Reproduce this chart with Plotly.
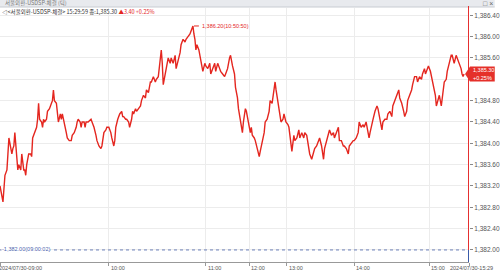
import plotly.graph_objects as go

# tick sequence position (x) and traded price
tick_seq = [0, 1, 3, 5, 7, 8, 9, 11, 12, 13, 14, 15, 16, 17, 18, 19, 21, 22, 23, 24, 25, 26, 27, 29, 31, 32, 33, 35,
            37, 38, 39, 40, 42, 43, 44, 45, 47, 48, 50, 52, 53, 54, 55, 57, 58, 59, 61, 62, 63, 65, 67, 68, 70, 72, 73,
            75, 77, 78, 79, 81, 82, 83, 85, 86, 87, 89, 92, 93, 95, 97, 98, 100, 102, 103, 105, 107, 108, 110, 112,
            113, 115, 116, 117, 119, 121, 123, 124, 125, 127, 128, 130, 131, 133, 134, 135, 137, 138, 140, 142, 143,
            145, 147, 148, 150, 152, 153, 155, 157, 158, 160, 162, 163, 164, 165, 167, 168, 170, 172, 173, 175, 177,
            178, 180, 182, 183, 185, 187, 188, 190, 192, 193, 195, 196, 197, 198, 199, 201, 202, 203, 205, 207, 208,
            210, 212, 213, 215, 217, 218, 220, 222, 223, 225, 227, 228, 230, 232, 233, 235, 237, 238, 240, 241, 242,
            243, 245, 246, 247, 248, 249, 251, 252, 253, 254, 255, 257, 258, 260, 262, 263, 265, 267, 268, 270, 272,
            273, 275, 277, 278, 279, 281, 282, 284, 286, 287, 289, 291, 292, 294, 295, 297, 298, 300, 302, 303, 305,
            307, 308, 310, 312, 313, 315, 317, 318, 320, 322, 323, 325, 327, 328, 330, 332, 333, 335, 337, 338, 340,
            342, 343, 345, 347, 348, 350, 352, 353, 355, 357, 358, 360, 362, 363, 365, 367, 368, 370, 372, 373, 374,
            376, 377, 379, 381, 382, 383, 385, 386, 387, 389, 391, 392, 394, 396, 397, 399, 401, 402, 403, 404, 406,
            408, 409, 411, 412, 414, 416, 417, 419, 421, 422, 424, 426, 427, 429, 430, 432, 433, 435, 437, 438, 440,
            441, 443, 444, 446, 448, 449, 451, 452, 454, 456, 457, 459, 461, 462, 464, 466, 467, 468, 469]
price = [1383.20, 1383.10, 1382.90, 1383.40, 1383.50, 1383.80, 1384.10, 1383.90, 1383.80, 1383.90, 1383.95, 1384.20,
         1383.90, 1383.65, 1383.50, 1383.60, 1383.50, 1383.80, 1383.65, 1383.50, 1383.50, 1383.40, 1383.60, 1383.80,
         1383.80, 1383.75, 1384.10, 1384.20, 1384.30, 1384.45, 1384.75, 1384.45, 1384.40, 1384.30, 1384.45, 1384.40,
         1384.45, 1384.60, 1384.65, 1384.75, 1384.80, 1385.00, 1384.80, 1384.75, 1384.60, 1384.40, 1384.55, 1384.45,
         1384.55, 1384.40, 1384.20, 1384.10, 1384.05, 1384.05, 1384.15, 1384.20, 1384.30, 1384.40, 1384.45, 1384.40,
         1384.30, 1384.40, 1384.40, 1384.30, 1384.40, 1384.40, 1384.45, 1384.40, 1384.30, 1384.15, 1384.05, 1383.95,
         1383.90, 1383.95, 1384.20, 1384.25, 1384.30, 1384.30, 1384.20, 1384.10, 1383.95, 1384.05, 1384.30, 1384.45,
         1384.55, 1384.60, 1384.50, 1384.50, 1384.45, 1384.45, 1384.40, 1384.30, 1384.45, 1384.60, 1384.55, 1384.65,
         1384.60, 1384.65, 1384.70, 1384.80, 1384.90, 1384.85, 1385.00, 1384.95, 1385.15, 1385.15, 1385.25, 1385.15,
         1385.20, 1385.25, 1385.55, 1385.75, 1385.50, 1385.10, 1385.30, 1385.40, 1385.60, 1385.50, 1385.60, 1385.50,
         1385.65, 1385.40, 1385.55, 1385.70, 1385.85, 1385.95, 1385.90, 1385.95, 1386.00, 1386.05, 1386.10, 1386.20,
         1386.05, 1385.95, 1385.75, 1385.85, 1385.75, 1385.65, 1385.50, 1385.35, 1385.50, 1385.45, 1385.40, 1385.50,
         1385.30, 1385.40, 1385.50, 1385.35, 1385.50, 1385.40, 1385.35, 1385.30, 1385.25, 1385.30, 1385.40, 1385.60,
         1385.65, 1385.45, 1385.30, 1385.05, 1384.85, 1384.65, 1384.55, 1384.40, 1384.20, 1384.40, 1384.60, 1384.65,
         1384.60, 1384.40, 1384.30, 1384.20, 1384.30, 1384.15, 1384.10, 1384.05, 1383.90, 1383.75, 1383.85, 1384.00,
         1384.20, 1384.40, 1384.45, 1384.60, 1384.80, 1384.75, 1385.05, 1385.15, 1385.00, 1384.75, 1384.60, 1384.40,
         1384.45, 1384.55, 1384.40, 1384.35, 1384.30, 1383.95, 1383.85, 1384.15, 1384.05, 1384.10, 1384.25, 1384.10,
         1384.20, 1384.10, 1384.20, 1384.15, 1383.95, 1383.80, 1383.70, 1383.85, 1383.90, 1383.95, 1384.05, 1384.10,
         1383.95, 1383.70, 1383.90, 1384.05, 1384.15, 1384.25, 1384.15, 1384.20, 1384.10, 1384.20, 1384.30, 1384.05,
         1384.05, 1383.95, 1383.95, 1383.90, 1383.80, 1383.95, 1384.00, 1384.05, 1384.05, 1384.10, 1384.20, 1384.40,
         1384.30, 1384.35, 1384.30, 1384.40, 1384.20, 1384.10, 1384.20, 1384.40, 1384.45, 1384.60, 1384.70, 1384.65,
         1384.55, 1384.35, 1384.25, 1384.40, 1384.45, 1384.45, 1384.55, 1384.60, 1384.50, 1384.70, 1384.80, 1384.90,
         1384.95, 1385.00, 1384.85, 1384.75, 1384.60, 1384.50, 1384.60, 1384.80, 1384.90, 1385.00, 1385.10, 1385.25,
         1385.25, 1385.15, 1385.25, 1385.20, 1385.30, 1385.40, 1385.30, 1385.40, 1385.45, 1385.35, 1385.15, 1385.05,
         1384.90, 1384.70, 1384.85, 1384.90, 1384.70, 1385.00, 1385.15, 1385.20, 1385.35, 1385.50, 1385.65, 1385.65,
         1385.50, 1385.65, 1385.60, 1385.50, 1385.40, 1385.30, 1385.25, 1385.30]

x_tick_pos = [0, 110, 208, 252, 290, 358, 434, 474]
x_tick_text = ["2024/07/30-09:00", "10:00", "11:00", "12:00", "13:00", "14:00", "15:00", "2024/07/30-15:29"]
y_tick_vals = [1382.00, 1382.40, 1382.80, 1383.20, 1383.60, 1384.00, 1384.40, 1384.80, 1385.20, 1385.60, 1386.00, 1386.40]

high_price, high_time, high_pos = 1386.20, "10:50:50", 195
low_price, low_time = 1382.00, "09:00:02"
last_price, change, change_pct, last_time = 1385.30, 3.40, 0.25, "15:29:59"
title = "서울외환-USDSP-체결"

RED = "#e4261f"
BLUE = "#4a63ad"
NUM_FONT = "Liberation Sans Narrow, Liberation Sans, Arial"
KR_FONT = "Noto Sans CJK KR, Noto Sans, sans-serif"

Y0, Y1 = 1381.774, 1386.537
X_END = x_tick_pos[-1]

# y tick labels hidden where the last-price tag covers them
y_tick_text = ["" if abs(v - last_price) < 0.15 else f"{v:,.2f}" for v in y_tick_vals]

fig = go.Figure()
fig.add_trace(go.Scatter(x=tick_seq, y=price, mode="lines",
                         line=dict(color=RED, width=1.4), hoverinfo="skip"))

fig.update_layout(
    width=500, height=272,
    margin=dict(l=0, r=26, t=8, b=10),
    paper_bgcolor="white", plot_bgcolor="white",
    showlegend=False,
    xaxis=dict(range=[0, X_END], tickvals=x_tick_pos, showticklabels=False,
               showgrid=True, gridcolor="#ececec", gridwidth=1,
               ticks="outside", ticklen=3, tickcolor="#999",
               showline=True, linecolor="#999", linewidth=1, zeroline=False, fixedrange=True),
    yaxis=dict(range=[Y0, Y1], side="right", tickvals=y_tick_vals, ticktext=y_tick_text,
               showgrid=True, gridcolor="#ececec", gridwidth=1,
               ticks="outside", ticklen=3, tickcolor="#888",
               tickfont=dict(family=NUM_FONT, size=6.5, color="#555"),
               showline=False, zeroline=False, fixedrange=True),
)

H = 254.0  # plot height in px
def py(p):  # pixel row -> paper y
    return (262 - p) / H
def px(p):
    return p / 474.0

low_frac = (low_price - Y0) / (Y1 - Y0)
shapes = []
# header title bar
shapes.append(dict(type="rect", xref="paper", yref="paper", x0=0, x1=px(500), y0=py(7), y1=py(0),
                   fillcolor="#e8eaee", line=dict(width=0), layer="above"))
shapes.append(dict(type="line", xref="paper", yref="paper", x0=0, x1=px(500), y0=py(7), y1=py(7),
                   line=dict(color="#c8ccd2", width=1), layer="above"))
# low dotted line
shapes.append(dict(type="line", xref="x", yref="y", x0=0, x1=X_END, y0=low_price, y1=low_price,
                   line=dict(color="#6b7fb8", width=1, dash="dot"), layer="above"))
# current-bar vertical line (red above low, blue below)
shapes.append(dict(type="line", xref="x", yref="paper", x0=X_END, x1=X_END, y0=low_frac, y1=py(6),
                   line=dict(color="#e53030", width=2), layer="above"))
shapes.append(dict(type="line", xref="x", yref="paper", x0=X_END, x1=X_END, y0=0, y1=low_frac,
                   line=dict(color="#3a5ba8", width=2), layer="above"))
# high marker tick
shapes.append(dict(type="line", xref="x", yref="y", x0=high_pos + 1, x1=high_pos + 6, y0=high_price, y1=high_price,
                   line=dict(color=RED, width=1), layer="above"))
# last-price tag
ly = (last_price - Y0) / (Y1 - Y0)
hh = 7.5 / H
shapes.append(dict(type="path", xref="paper", yref="paper",
                   path=f"M {px(470)} {ly} L {px(475)} {ly + hh} L {px(500)} {ly + hh} L {px(500)} {ly - hh} L {px(475)} {ly - hh} Z",
                   fillcolor="#e5302a", line=dict(width=0), layer="above"))
fig.update_layout(shapes=shapes)

SMALL = 5.5
ann = []
# x tick labels
for i, (pos, txt) in enumerate(zip(x_tick_pos, x_tick_text)):
    if i == len(x_tick_pos) - 1:
        ann.append(dict(x=px(500), xref="paper", y=0, yref="paper", yanchor="top", xanchor="right", yshift=-1,
                        text=txt, showarrow=False, font=dict(family=NUM_FONT, size=SMALL, color="#555")))
    else:
        ann.append(dict(x=pos, xref="x", y=0, yref="paper", yanchor="top", xanchor="left", yshift=-1,
                        xshift=(-3 if i == 0 else 0),
                        text=txt, showarrow=False, font=dict(family=NUM_FONT, size=SMALL, color="#555")))
# header texts
ann.append(dict(x=px(3), xref="paper", y=py(3), yref="paper", xanchor="left", yanchor="middle",
                text=f"{title} (틱)", showarrow=False, font=dict(family=KR_FONT, size=SMALL, color="#777")))
ann.append(dict(x=px(486), xref="paper", y=py(3), yref="paper", xanchor="left", yanchor="middle",
                text="□ ×", showarrow=False, font=dict(family=NUM_FONT, size=7, color="#666")))
ann.append(dict(x=px(0), xref="paper", y=py(12.5), yref="paper", xanchor="left", yanchor="middle",
                text=(f"◁<{title}> {last_time} 종:{last_price:,.2f} "
                      f"<span style='color:{RED}'>▲{change:.2f} +{change_pct:.2f}%</span>"),
                showarrow=False, font=dict(family=KR_FONT, size=SMALL, color="#333")))
# high / low labels
ann.append(dict(x=high_pos + 7, xref="x", y=high_price, yref="y", xanchor="left", yanchor="middle",
                text=f"{high_price:,.2f}({high_time})", showarrow=False,
                font=dict(family=NUM_FONT, size=SMALL, color=RED)))
ann.append(dict(x=1, xref="x", y=low_price, yref="y", xanchor="left", yanchor="middle", yshift=1,
                text=f"-{low_price:,.2f}({low_time})", showarrow=False, bgcolor="white", borderpad=0,
                font=dict(family=NUM_FONT, size=SMALL, color=BLUE)))
# tag texts
ann.append(dict(x=px(476), xref="paper", y=ly, yref="paper", xanchor="left", yanchor="bottom", yshift=-1,
                text=f"{last_price:,.2f}", showarrow=False, font=dict(family=NUM_FONT, size=5.5, color="white")))
ann.append(dict(x=px(476), xref="paper", y=ly, yref="paper", xanchor="left", yanchor="top", yshift=1,
                text=f"+{change_pct:.2f}%", showarrow=False, font=dict(family=NUM_FONT, size=5.5, color="white")))
fig.update_layout(annotations=ann)

fig.write_html("out.html", config={"displayModeBar": False})
